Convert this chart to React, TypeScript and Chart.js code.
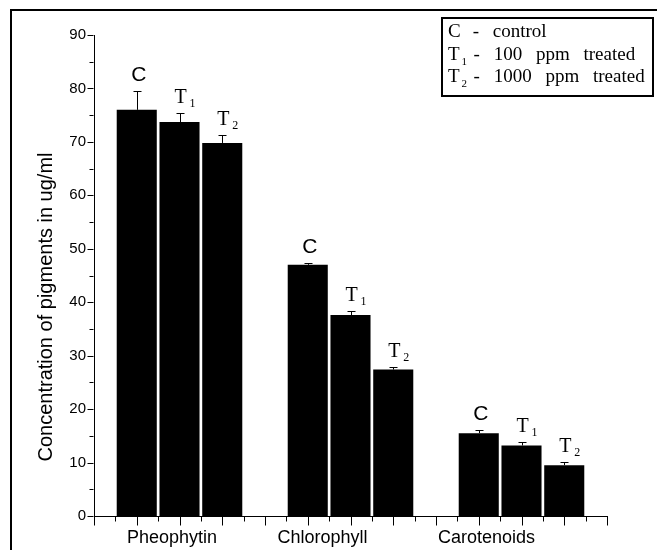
import React, { useEffect, useRef } from 'react';
import { Chart, registerables } from 'chart.js';

Chart.register(...registerables);

// ---- data ----
const categories = ['Pheophytin', 'Chlorophyll', 'Carotenoids'];
const controlValues = [76.0, 47.0, 15.5];
const t1Values = [73.7, 37.6, 13.2];
const t2Values = [69.8, 27.4, 9.5];
const controlErrors = [3.6, 0.4, 0.6];
const t1Errors = [1.7, 0.8, 0.6];
const t2Errors = [1.5, 0.5, 0.6];
const barMarks = ['C', 'T', 'T'];
const barMarkSubs = ['', '1', '2'];
const legendMain = ['C', 'T', 'T'];
const legendSub = ['', '1', '2'];
const legendText = ['- control', '- 100 ppm treated', '- 1000 ppm treated'];
const yTitle = 'Concentration of pigments in ug/ml';
const yMin = 0;
const yMax = 90;
const yMajorStep = 10;
const yMinorStep = 5;

// ---- layout constants (not data) ----
const W = 657;
const H = 550;
const xLabelShift = [-7.5, -28, -35];

const seriesValues = [controlValues, t1Values, t2Values];
const seriesErrors = [controlErrors, t1Errors, t2Errors];

const SERIF = '"Liberation Serif", "Times New Roman", serif';
const SANS = '"Liberation Sans", Arial, sans-serif';

const drawPlugin = {
  id: 'customDraw',
  afterDatasetsDraw(chart: any) {
    const ctx = chart.ctx;
    const y = chart.scales.y;
    ctx.save();
    ctx.strokeStyle = '#000';
    ctx.fillStyle = '#000';
    ctx.lineWidth = 1;
    chart.data.datasets.forEach((ds: any, di: number) => {
      const meta = chart.getDatasetMeta(di);
      meta.data.forEach((el: any, i: number) => {
        const v = seriesValues[di][i];
        const e = seriesErrors[di][i];
        const top = y.getPixelForValue(v);
        const et = y.getPixelForValue(v + e);
        const x = Math.round(el.x) + 0.5;
        ctx.beginPath();
        ctx.moveTo(x, top);
        ctx.lineTo(x, Math.round(et) + 0.5);
        ctx.moveTo(x - 4, Math.round(et) + 0.5);
        ctx.lineTo(x + 4, Math.round(et) + 0.5);
        ctx.stroke();
        // labels
        const base = et - 10;
        const mark = barMarks[di];
        const sub = barMarkSubs[di];
        if (!sub) {
          ctx.font = '21px ' + SANS;
          ctx.textAlign = 'center';
          ctx.textBaseline = 'alphabetic';
          ctx.fillText(mark, el.x + 2, base);
        } else {
          ctx.font = '20px ' + SERIF;
          ctx.textAlign = 'center';
          ctx.textBaseline = 'alphabetic';
          ctx.fillText(mark, el.x + 1, base);
          const tw = ctx.measureText(mark).width;
          ctx.font = '12px ' + SERIF;
          ctx.textAlign = 'left';
          ctx.fillText(sub, el.x + 1 + tw / 2 + 3, base + 4);
        }
      });
    });
    ctx.restore();
  },
  afterDraw(chart: any) {
    const ctx = chart.ctx;
    const xs = chart.scales.x;
    const ys = chart.scales.y;
    const area = chart.chartArea;
    ctx.save();
    ctx.strokeStyle = '#000';
    ctx.fillStyle = '#000';
    ctx.lineWidth = 1;
    // y ticks
    const axX = Math.round(area.left) - 0.5;
    for (let v = yMin; v <= yMax; v += yMinorStep) {
      const py = Math.round(ys.getPixelForValue(v)) + 0.5;
      const len = v % yMajorStep === 0 ? 6 : 4;
      ctx.beginPath();
      ctx.moveTo(axX - len, py);
      ctx.lineTo(axX, py);
      ctx.stroke();
    }
    // x ticks
    const axY = Math.round(area.bottom) + 0.5;
    const n = categories.length;
    for (let k = 0; k <= n * 8; k++) {
      const v = -0.5 + k / 8;
      const px = Math.round(xs.getPixelForValue(v)) + 0.5;
      const len = k % 2 === 0 ? 9 : 5;
      ctx.beginPath();
      ctx.moveTo(px, axY);
      ctx.lineTo(px, axY + len);
      ctx.stroke();
    }
    // x labels
    ctx.font = '18px ' + SANS;
    ctx.textAlign = 'center';
    ctx.textBaseline = 'alphabetic';
    categories.forEach((c, i) => {
      ctx.fillText(c, xs.getPixelForValue(i) + xLabelShift[i], 543);
    });
    // y title
    ctx.save();
    ctx.translate(52, 307);
    ctx.rotate(-Math.PI / 2);
    ctx.font = '20px ' + SANS;
    ctx.textAlign = 'center';
    ctx.textBaseline = 'alphabetic';
    ctx.fillText(yTitle, 0, 0);
    ctx.restore();
    // outer frame
    ctx.lineWidth = 2;
    ctx.strokeRect(11, 10, W + 10, H + 10);
    // legend box
    ctx.strokeRect(442, 18, 211, 78);
    ctx.textAlign = 'left';
    legendMain.forEach((m, i) => {
      const base = 37 + i * 22.5;
      (ctx as any).wordSpacing = '0px';
      ctx.font = '19px ' + SERIF;
      ctx.fillText(m, 448, base);
      let xx = 448 + ctx.measureText(m).width;
      if (legendSub[i]) {
        ctx.font = '11px ' + SERIF;
        ctx.fillText(legendSub[i], xx + 2, base + 5);
        xx += 2;
      }
      ctx.font = '19px ' + SERIF;
      (ctx as any).wordSpacing = '9px';
      ctx.fillText(legendText[i], xx + 12, base);
    });
    ctx.restore();
  },
};

export default function App() {
  const ref = useRef<HTMLCanvasElement | null>(null);
  useEffect(() => {
    if (!ref.current) return;
    const chart = new Chart(ref.current, {
      type: 'bar',
      data: {
        labels: categories,
        datasets: seriesValues.map((vals, i) => ({
          label: barMarks[i] + barMarkSubs[i],
          data: vals,
          backgroundColor: '#000',
          borderWidth: 0,
          categoryPercentage: 0.75,
          barPercentage: 0.937,
        })),
      },
      options: {
        responsive: false,
        animation: false,
        devicePixelRatio: 1,
        layout: { padding: { left: 0, top: 35, right: 50, bottom: 0 } },
        plugins: {
          legend: { display: false },
          tooltip: { enabled: false },
        },
        scales: {
          x: {
            grid: { display: false, drawTicks: false },
            ticks: { display: false },
            border: { display: true, color: '#000', width: 1 },
            afterFit: (s: any) => {
              s.height = 34;
            },
          },
          y: {
            min: yMin,
            max: yMax,
            grid: { display: false, drawTicks: false },
            border: { display: true, color: '#000', width: 1 },
            ticks: {
              stepSize: yMajorStep,
              padding: 8,
              color: '#000',
              font: { family: SANS, size: 15 },
            },
            afterFit: (s: any) => {
              s.width = 94;
            },
          },
        },
      },
      plugins: [drawPlugin],
    } as any);
    return () => chart.destroy();
  }, []);
  return (
    <div style={{ position: 'fixed', left: 0, top: 0, width: W, height: H, background: '#fff' }}>
      <canvas ref={ref} width={W} height={H} style={{ width: W, height: H, display: 'block' }} />
    </div>
  );
}
